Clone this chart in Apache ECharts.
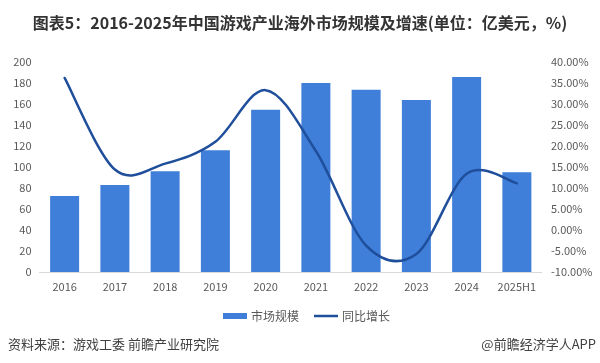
<!DOCTYPE html>
<html>
<head>
<meta charset="utf-8">
<script src="https://cdn.jsdelivr.net/npm/echarts@6/dist/echarts.min.js"></script>
<style>html,body{margin:0;padding:0;background:#fff}#c{width:600px;height:363px}</style>
</head>
<body>
<div id="c"></div>
<script>
const categories = ['2016','2017','2018','2019','2020','2021','2022','2023','2024','2025H1'];
const marketSize = [72.4, 82.8, 95.9, 115.9, 154.5, 180.1, 173.5, 163.7, 185.6, 95.0];
const growthRate = [36.2, 14.4, 15.8, 21.0, 33.3, 18.8, -3.7, -5.7, 13.4, 11.1];
const leftTicks = { min: 0, max: 200, interval: 20 };
const rightTicks = { min: -10, max: 40, interval: 5 };
const titleText = '图表5：2016-2025年中国游戏产业海外市场规模及增速(单位：亿美元，%)';
const sourceText = '资料来源：游戏工委 前瞻产业研究院';
const brandText = '@前瞻经济学人APP';
const seriesNames = ['市场规模', '同比增长'];

const font = '"Noto Sans CJK SC", "Noto Sans", sans-serif';
const lineColor = '#1F4E9B';

// Excel-style (Catmull-Rom) smoothed line drawn through the axis scales
function renderSmoothLine(params, api) {
  if (params.dataIndex !== 0) return null;
  const pts = growthRate.map((v, i) => api.coord([i, v]));
  const n = pts.length;
  let d = 'M' + pts[0][0] + ',' + pts[0][1];
  for (let i = 0; i < n - 1; i++) {
    const p0 = pts[Math.max(i - 1, 0)];
    const p1 = pts[i];
    const p2 = pts[i + 1];
    const p3 = pts[Math.min(i + 2, n - 1)];
    const c1x = p1[0] + (p2[0] - p0[0]) / 6;
    const c1y = p1[1] + (p2[1] - p0[1]) / 6;
    const c2x = p2[0] - (p3[0] - p1[0]) / 6;
    const c2y = p2[1] - (p3[1] - p1[1]) / 6;
    d += ' C' + c1x + ',' + c1y + ' ' + c2x + ',' + c2y + ' ' + p2[0] + ',' + p2[1];
  }
  return {
    type: 'path',
    shape: { pathData: d },
    style: { fill: 'none', stroke: lineColor, lineWidth: 2.5, lineCap: 'round', lineJoin: 'round' }
  };
}

const chart = echarts.init(document.getElementById('c'), null, { renderer: 'canvas' });
chart.setOption({
  animation: false,
  textStyle: { fontFamily: font },
  title: {
    text: titleText,
    left: 'center',
    top: 10,
    textStyle: { fontSize: 16, fontWeight: 'bold', color: '#333', fontFamily: font }
  },
  grid: { left: 39.5, right: 58, top: 62, bottom: 91, containLabel: false },
  legend: {
    left: 218,
    top: 305,
    itemWidth: 24,
    itemHeight: 6,
    itemGap: 15,
    textStyle: { fontSize: 12, color: '#595959', padding: [0, 0, 0, -1] },
    data: [
      { name: seriesNames[0], icon: 'rect' },
      { name: seriesNames[1], icon: 'path://M0,0L24,0L24,2.5L0,2.5Z' }
    ]
  },
  xAxis: {
    type: 'category',
    data: categories,
    axisLine: { lineStyle: { color: '#d9d9d9', width: 1 } },
    axisTick: { show: false },
    axisLabel: { fontSize: 11, color: '#595959', margin: 9 }
  },
  yAxis: [
    {
      type: 'value',
      min: leftTicks.min, max: leftTicks.max, interval: leftTicks.interval,
      axisLine: { show: false },
      axisTick: { show: false },
      splitLine: { show: false },
      axisLabel: { fontSize: 11, color: '#595959', margin: 8 }
    },
    {
      type: 'value',
      min: rightTicks.min, max: rightTicks.max, interval: rightTicks.interval,
      axisLine: { show: false },
      axisTick: { show: false },
      splitLine: { show: false },
      axisLabel: { fontSize: 11, color: '#595959', margin: 9, formatter: v => v.toFixed(2) + '%' }
    }
  ],
  series: [
    {
      name: seriesNames[0],
      type: 'bar',
      data: marketSize,
      barWidth: 29,
      itemStyle: { color: '#3F7FDA' }
    },
    {
      name: seriesNames[1],
      type: 'custom',
      yAxisIndex: 1,
      coordinateSystem: 'cartesian2d',
      data: growthRate.map((v, i) => [i, v]),
      encode: { x: 0, y: 1 },
      renderItem: renderSmoothLine,
      itemStyle: { color: lineColor },
      z: 3
    }
  ],
  graphic: [
    {
      type: 'text', left: 8, top: 338,
      style: { text: sourceText, fontSize: 13, fill: '#404040', fontFamily: font }
    },
    {
      type: 'text', right: 4, top: 338,
      style: { text: brandText, fontSize: 13, fill: '#404040', fontFamily: font }
    }
  ]
});
</script>
</body>
</html>
